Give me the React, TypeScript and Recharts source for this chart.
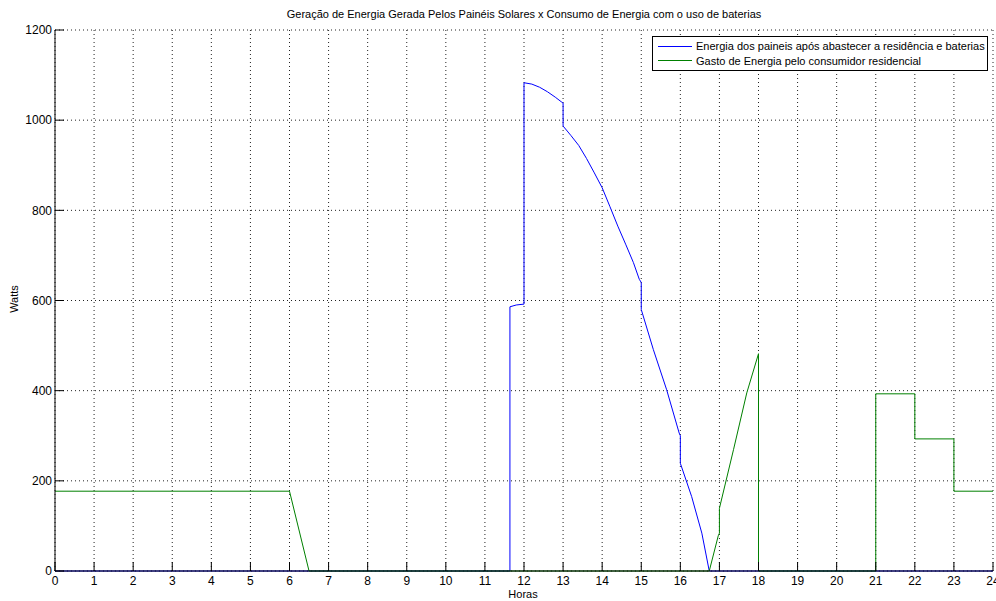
import React from 'react';
import { LineChart, Line, XAxis, YAxis, CartesianGrid } from 'recharts';

const titleText = 'Geração de Energia Gerada Pelos Painéis Solares x Consumo de Energia com o uso de baterias';
const xLabel = 'Horas';
const yLabel = 'Watts';

const seriesNames = [
  'Energia dos paineis após abastecer a residência e baterias',
  'Gasto de Energia pelo consumidor residencial',
];
const seriesColors = ['#0000ff', '#008000'];

const xTicks = [0, 1, 2, 3, 4, 5, 6, 7, 8, 9, 10, 11, 12, 13, 14, 15, 16, 17, 18, 19, 20, 21, 22, 23, 24];
const yTicks = [0, 200, 400, 600, 800, 1000, 1200];

// Panel surplus energy (blue)
const panelHours = [0, 11.64, 11.64, 11.8, 12, 12, 12.2, 12.4, 12.6, 12.8, 12.95, 13, 13, 13.2, 13.4, 13.6, 13.8, 14.0, 14.2, 14.4, 14.6, 14.8, 14.95, 15, 15, 15.31, 15.65, 15.97, 16, 16, 16.29, 16.55, 16.74, 24];
const panelWatts = [0, 0, 586, 590, 592, 1083, 1080, 1073, 1063, 1051, 1041, 1038, 987, 966, 944, 915, 883, 850, 808, 765, 725, 684, 647, 640, 580, 491, 402, 306, 300, 239, 165, 84, 0, 0];

// Residential consumption (green)
const loadHours = [0, 6, 6.5, 16.74, 16.97, 17, 17, 17.36, 17.7, 18, 18, 21, 21, 22, 22, 23, 23, 24];
const loadWatts = [177, 177, 0, 0, 78, 84, 139, 269, 395, 482, 0, 0, 393, 393, 293, 293, 177, 177];

const panelData = panelHours.map((h, i) => ({ h, w: panelWatts[i] }));
const loadData = loadHours.map((h, i) => ({ h, w: loadWatts[i] }));

const font = '"Liberation Sans", Arial, Helvetica, sans-serif';

export default function App() {
  return (
    <div style={{ position: 'absolute', left: 0, top: 0, width: 996, height: 601, background: '#fff', fontFamily: font }}>
      <LineChart
        width={996}
        height={601}
        margin={{ top: 30, right: 3, bottom: 0, left: 10 }}
        style={{ fontFamily: font }}
      >
        <CartesianGrid stroke="#222" strokeDasharray="1 3" strokeWidth={1} xAxisId="b" yAxisId="l" />
        <XAxis
          xAxisId="b"
          type="number"
          dataKey="h"
          domain={[0, 24]}
          ticks={xTicks}
          interval={0}
          height={30}
          tickSize={-9}
          tickMargin={14}
          stroke="#000"
          tick={{ fill: '#000', fontSize: 12 }}
        />
        <XAxis
          xAxisId="t"
          orientation="top"
          type="number"
          dataKey="h"
          domain={[0, 24]}
          ticks={xTicks}
          interval={0}
          height={0}
          tickSize={-9}
          tick={false}
          stroke="#000"
        />
        <YAxis
          yAxisId="l"
          type="number"
          domain={[0, 1200]}
          ticks={yTicks}
          interval={0}
          width={45}
          tickSize={-9}
          tickMargin={12}
          stroke="#000"
          tick={{ fill: '#000', fontSize: 12 }}
        />
        <YAxis
          yAxisId="r"
          orientation="right"
          type="number"
          domain={[0, 1200]}
          ticks={yTicks}
          interval={0}
          width={0}
          tickSize={-9}
          tick={false}
          stroke="#000"
        />
        <Line
          xAxisId="b"
          yAxisId="l"
          data={panelData}
          dataKey="w"
          name={seriesNames[0]}
          type="linear"
          stroke={seriesColors[0]}
          strokeWidth={1}
          dot={false}
          activeDot={false}
          isAnimationActive={false}
        />
        <Line
          xAxisId="b"
          yAxisId="l"
          data={loadData}
          dataKey="w"
          name={seriesNames[1]}
          type="linear"
          stroke={seriesColors[1]}
          strokeWidth={1}
          dot={false}
          activeDot={false}
          isAnimationActive={false}
        />
      </LineChart>

      <div style={{ position: 'absolute', left: 0, width: 1048, top: 8, textAlign: 'center', fontSize: 11, color: '#000', whiteSpace: 'nowrap' }}>
        {titleText}
      </div>
      <div style={{ position: 'absolute', left: 493, width: 60, top: 588, textAlign: 'center', fontSize: 11, color: '#000' }}>
        {xLabel}
      </div>
      <div style={{ position: 'absolute', left: -16, top: 293, width: 60, textAlign: 'center', fontSize: 11, color: '#000', transform: 'rotate(-90deg)' }}>
        {yLabel}
      </div>

      <div style={{ position: 'absolute', left: 652, top: 36, width: 334, height: 33, border: '1px solid #000', background: '#fff', fontSize: 11, color: '#000' }}>
        {seriesNames.map((n, i) => (
          <div key={n} style={{ position: 'absolute', left: 5, top: 2 + i * 14.5, height: 14, display: 'flex', alignItems: 'center', whiteSpace: 'nowrap' }}>
            <span style={{ display: 'inline-block', width: 34, height: 0, borderTop: `1px solid ${seriesColors[i]}`, marginRight: 4 }} />
            <span>{n}</span>
          </div>
        ))}
      </div>
    </div>
  );
}
